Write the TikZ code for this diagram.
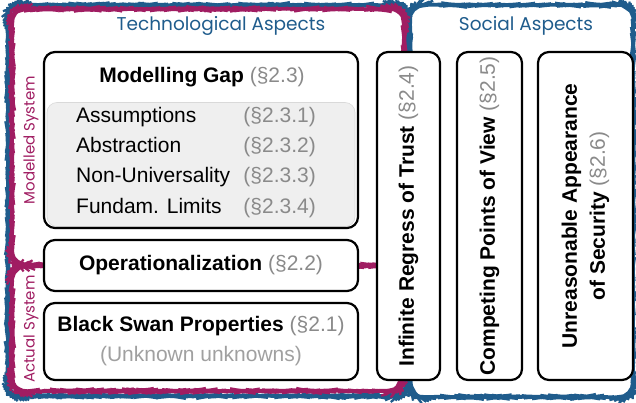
\documentclass[tikz,border=0pt]{standalone}
\usepackage{fontspec}
\setmainfont{Liberation Sans}
\newfontfamily\handfont{Poppins}
\usetikzlibrary{positioning,decorations.pathmorphing}
\definecolor{techblue}{HTML}{1F5C8C}
\definecolor{sysmagenta}{HTML}{A01D62}
\definecolor{refgray}{HTML}{8A8A8A}
\definecolor{unkgray}{HTML}{A0A0A0}
\definecolor{listgray}{HTML}{EFEFEF}
\newcommand{\secref}[1]{{\mdseries\color{refgray}(§#1)}}
\newcommand{\boxfont}{\fontsize{21}{30}\selectfont}
\tikzset{
  sketch/.style={line width=2.2pt, rounded corners=14pt, decorate,
    decoration={random steps, segment length=2pt, amplitude=0.25pt}},
  topicbox/.style={draw, line width=2.2pt, rounded corners=11pt, fill=white, font=\boxfont},
  listbox/.style={fill=listgray, draw=black!15, line width=0.6pt, rounded corners=10pt},
  listtext/.style={font=\boxfont, inner sep=0pt},
  handtext/.style={font=\handfont\fontsize{18.5}{20}\selectfont, inner sep=0pt},
  sidetext/.style={font=\handfont\fontsize{15}{17}\selectfont, inner sep=0pt, rotate=90, text=sysmagenta}
}

\begin{document}
\begin{tikzpicture}[x=1pt,y=-1pt]
\useasboundingbox (0,0) rectangle (636,403);
\pgfmathsetseed{7}
%aspects
\draw[sketch,techblue] (8,5) rectangle (406,396);
\draw[sketch,techblue] (410,5) rectangle (633,397);
%systems
\draw[sketch,sysmagenta] (12,9) rectangle (404,265);
\draw[sketch,sysmagenta] (12,266) rectangle (402,391);
%frame labels
\node[handtext, text=techblue, anchor=base] (techlabel) at (221,31) {Technological Aspects};
\node[handtext, text=techblue, anchor=base] (sociallabel) at (526,31) {Social Aspects};
\node[sidetext] (modlabel) at (31,140) {Modelled System};
\node[sidetext] (actlabel) at (31,329) {Actual System};
%modelling gap
\node[listbox, minimum width=308, minimum height=124] (gaplist) at (201,164.5) {};
\node[topicbox, fill=none, minimum width=314, minimum height=176] (gap) at (201,140) {};
\node[listtext, anchor=base] (gaptitle) at (202,83) {\bfseries Modelling Gap \secref{2.3}};
\foreach \lbl/\num [count=\i] in {Assumptions/1, Abstraction/2, Non-Universality/3, Fundam. Limits/4}{
  \node[listtext, anchor=base west] (item\i) at (76,93+30*\i) {\lbl};
  \node[listtext, anchor=base east, text=refgray] (ref\i) at (316,93+30*\i) {(§2.3.\num)};
}
%actual system
\node[topicbox, minimum width=314, minimum height=51] (oper) at (201,265.5) {\bfseries Operationalization \secref{2.2}};
\node[topicbox, minimum width=314, minimum height=77, align=center] (swan) at (201,341.5)
  {\bfseries Black Swan Properties \secref{2.1}\\{\mdseries\color{unkgray}(Unknown unknowns)}};
%vertical columns
\node[topicbox, rotate=90, minimum width=328, minimum height=63] (trust) at (408.5,216) {\bfseries Infinite Regress of Trust \secref{2.4}};
\node[topicbox, rotate=90, minimum width=328, minimum height=65] (views) at (489.5,216) {\bfseries Competing Points of View \secref{2.5}};
\node[topicbox, rotate=90, minimum width=328, minimum height=95, align=center, font=\fontsize{21}{28}\selectfont] (appear) at (585.5,216)
  {\bfseries Unreasonable Appearance\\\bfseries of Security \secref{2.6}};
\end{tikzpicture}
\end{document}
